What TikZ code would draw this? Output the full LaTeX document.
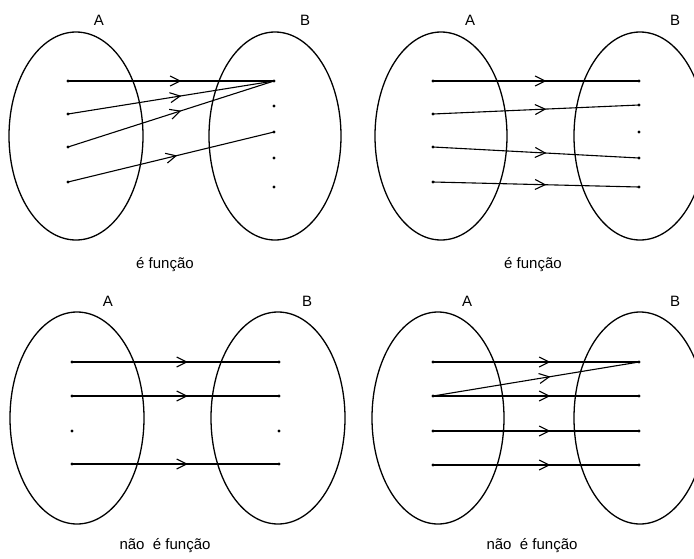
\documentclass[tikz,border=0pt]{standalone}
\usepackage{fontspec}
\setmainfont{Liberation Sans}
\usetikzlibrary{arrows.meta,decorations.markings}
\tikzset{
  setshape/.style={draw, line width=1.3pt},
  elem/.style={circle, fill=black, inner sep=0pt, minimum size=3.4pt},
  setlabel/.style={font=\fontsize{15}{17}\selectfont},
  caption/.style={font=\fontsize{15}{17}\selectfont},
  maparrow/.style={line width=1.1pt, postaction={decorate},
    decoration={markings, mark=at position #1 with {\arrow{Straight Barb[length=10pt,width=10pt,line width=1.1pt]}}}},
  maparrow/.default=0.55
}
\begin{document}
\begin{tikzpicture}[x=1pt,y=-1pt]
\useasboundingbox (0,0) rectangle (694,558);
\clip (0,0) rectangle (694,558);

% ---------- Panel 1 ----------
\draw[setshape] (76,136) ellipse [x radius=67, y radius=104];
\draw[setshape] (275,136) ellipse [x radius=66, y radius=104];
\node[setlabel] (lA1) at (99,20) {A};
\node[setlabel] (lB1) at (305,20) {B};
\node[elem] (p1a1) at (68,81) {};
\node[elem] (p1a2) at (68,114) {};
\node[elem] (p1a3) at (68,147) {};
\node[elem] (p1a4) at (68,182) {};
\node[elem] (p1b1) at (274,81) {};
\node[elem] (p1b2) at (274,106) {};
\node[elem] (p1b3) at (274,132) {};
\node[elem] (p1b4) at (274,158) {};
\node[elem] (p1b5) at (274,187) {};
\draw[maparrow=0.55] (p1a1.center) -- (p1b1.center);
\draw[maparrow=0.55] (p1a2.center) -- (p1b1.center);
\draw[maparrow=0.55] (p1a3.center) -- (p1b1.center);
\draw[maparrow=0.53] (p1a4.center) -- (p1b3.center);
\node[caption] (c1) at (165,265) {é função};

% ---------- Panel 2 ----------
\draw[setshape] (441,136) ellipse [x radius=66, y radius=104];
\draw[setshape] (640,136) ellipse [x radius=66, y radius=104];
\node[setlabel] (lA2) at (470,20) {A};
\node[setlabel] (lB2) at (675,20) {B};
\node[elem] (p2a1) at (433,81) {};
\node[elem] (p2a2) at (433,114) {};
\node[elem] (p2a3) at (433,147) {};
\node[elem] (p2a4) at (433,182) {};
\node[elem] (p2b1) at (639,81) {};
\node[elem] (p2b2) at (639,105) {};
\node[elem] (p2b3) at (639,132) {};
\node[elem] (p2b4) at (639,158) {};
\node[elem] (p2b5) at (639,187) {};
\draw[maparrow=0.55] (p2a1.center) -- (p2b1.center);
\draw[maparrow=0.55] (p2a2.center) -- (p2b2.center);
\draw[maparrow=0.55] (p2a3.center) -- (p2b4.center);
\draw[maparrow=0.55] (p2a4.center) -- (p2b5.center);
\node[caption] (c2) at (533,265) {é função};

% ---------- Panel 3 ----------
\draw[setshape] (77,418) ellipse [x radius=67, y radius=106];
\draw[setshape] (278,418) ellipse [x radius=67, y radius=106];
\node[setlabel] (lA3) at (108,301) {A};
\node[setlabel] (lB3) at (307,301) {B};
\node[elem] (p3a1) at (72,362) {};
\node[elem] (p3a2) at (72,396) {};
\node[elem] (p3a3) at (72,431) {};
\node[elem] (p3a4) at (72,464) {};
\node[elem] (p3b1) at (279,362) {};
\node[elem] (p3b2) at (279,396) {};
\node[elem] (p3b3) at (279,431) {};
\node[elem] (p3b4) at (279,464) {};
\draw[maparrow=0.56] (p3a1.center) -- (p3b1.center);
\draw[maparrow=0.56] (p3a2.center) -- (p3b2.center);
\draw[maparrow=0.56] (p3a4.center) -- (p3b4.center);
\node[caption] (c3) at (165,546) {não\ \ é função};

% ---------- Panel 4 ----------
\draw[setshape] (438,418) ellipse [x radius=66, y radius=106];
\draw[setshape] (640,418) ellipse [x radius=66, y radius=106];
\node[setlabel] (lA4) at (467,301) {A};
\node[setlabel] (lB4) at (675,301) {B};
\node[elem] (p4a1) at (433,362) {};
\node[elem] (p4a2) at (433,396) {};
\node[elem] (p4a3) at (433,431) {};
\node[elem] (p4a4) at (433,465) {};
\node[elem] (p4b1) at (639,362) {};
\node[elem] (p4b2) at (639,396) {};
\node[elem] (p4b3) at (639,431) {};
\node[elem] (p4b4) at (639,465) {};
\draw[maparrow=0.57] (p4a1.center) -- (p4b1.center);
\draw[maparrow=0.57] (p4a2.center) -- (p4b1.center);
\draw[maparrow=0.57] (p4a2.center) -- (p4b2.center);
\draw[maparrow=0.57] (p4a3.center) -- (p4b3.center);
\draw[maparrow=0.57] (p4a4.center) -- (p4b4.center);
\node[caption] (c4) at (532,546) {não\ \ é função};
\end{tikzpicture}
\end{document}
